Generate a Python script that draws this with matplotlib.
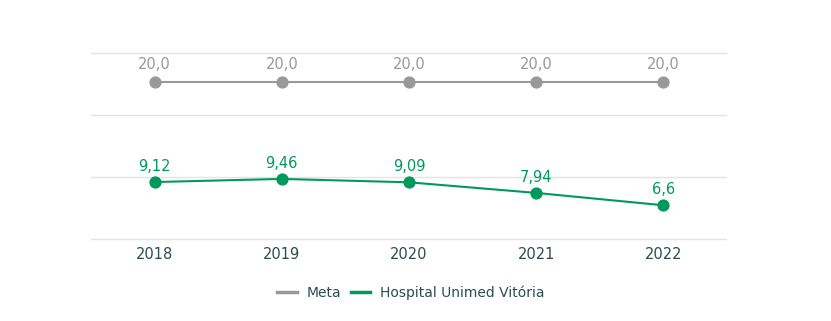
import matplotlib
matplotlib.use("Agg")
import matplotlib.pyplot as plt
from matplotlib.lines import Line2D

years = ["2018", "2019", "2020", "2021", "2022"]
meta = [20.0, 20.0, 20.0, 20.0, 20.0]
meta_labels = ["20,0", "20,0", "20,0", "20,0", "20,0"]
hospital = [9.12, 9.46, 9.09, 7.94, 6.6]
hospital_labels = ["9,12", "9,46", "9,09", "7,94", "6,6"]

GRAY = "#999999"
GREEN = "#00995D"
TEXT = "#2a4d52"

plt.rcParams["font.family"] = ["DejaVu Sans"]

fig = plt.figure(figsize=(8.31, 3.21), dpi=100)
top_px, bot_px = 52.0, 241.0
ax = fig.add_axes([91 / 831, 1 - bot_px / 321, (727 - 91) / 831, (bot_px - top_px) / 321])

x = list(range(len(years)))
ax.plot(x, meta, color=GRAY, lw=1.5, marker="o", ms=7.8, zorder=3)
ax.plot(x, hospital, color=GREEN, lw=1.5, marker="o", ms=7.8, zorder=3)

for xi, v, t in zip(x, meta, meta_labels):
    ax.annotate(t, (xi, v), xytext=(0, 7), textcoords="offset points",
                ha="center", va="bottom", color=GRAY, fontsize=10.5)
for xi, v, t in zip(x, hospital, hospital_labels):
    ax.annotate(t, (xi, v), xytext=(0, 6), textcoords="offset points",
                ha="center", va="bottom", color=GREEN, fontsize=10.5)

# value range per pixel, grid every ~62 px
per_px = 13.4 / 123.6
grid_lo, grid_hi = 2.91, 23.06
ax.set_ylim(grid_lo - (bot_px - 239.3) * per_px, grid_hi + (53.5 - top_px) * per_px)
ax.set_xlim(-0.5, 4.5)
step = (grid_hi - grid_lo) / 3
ax.set_yticks([grid_lo + i * step for i in range(4)])
ax.yaxis.grid(True, color="#e3e3e3", lw=1)
ax.set_axisbelow(True)
ax.tick_params(axis="y", left=False, labelleft=False)
ax.set_xticks(x)
ax.set_xticklabels(years, color=TEXT, fontsize=10.5)
ax.tick_params(axis="x", length=0, pad=4)
for s in ax.spines.values():
    s.set_visible(False)

handles = [Line2D([], [], color=GRAY, lw=2.5), Line2D([], [], color=GREEN, lw=2.5)]
leg = fig.legend(handles, ["Meta", "Hospital Unimed Vitória"], loc="center",
                 bbox_to_anchor=(411 / 831, 1 - 293 / 321), ncol=2, frameon=False,
                 fontsize=10, handlelength=1.4, handletextpad=0.7, columnspacing=0.7)
for t in leg.get_texts():
    t.set_color(TEXT)

fig.savefig("out.png", dpi=100, facecolor="white")
